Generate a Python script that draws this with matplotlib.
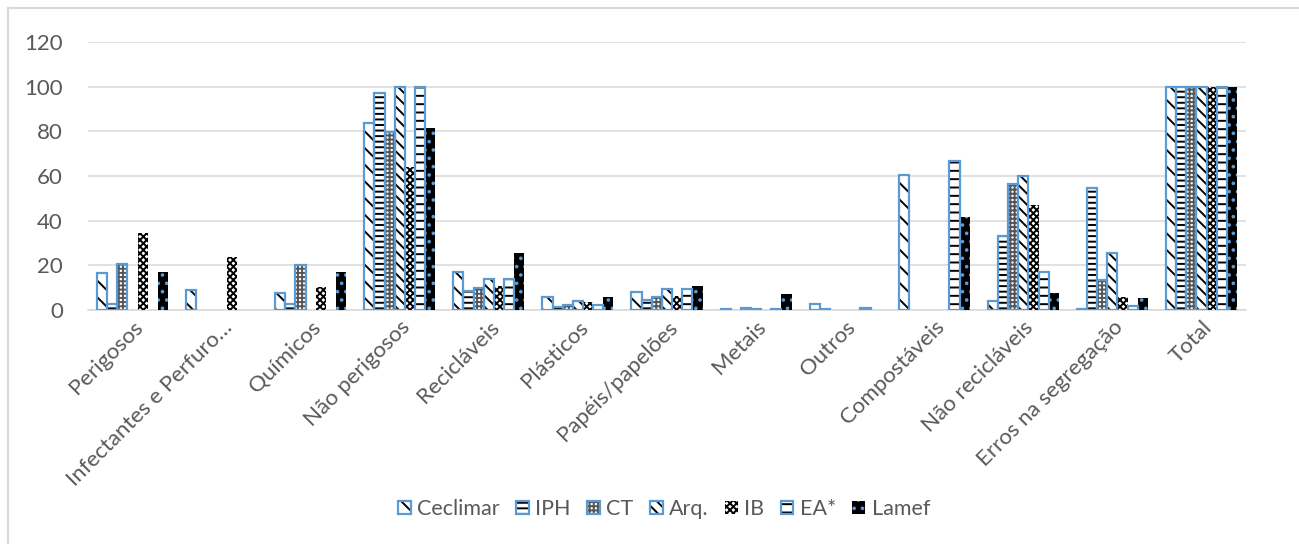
import numpy as np
import matplotlib
matplotlib.use("Agg")
import matplotlib.pyplot as plt
from matplotlib.patches import Patch
from matplotlib.legend_handler import HandlerTuple
from matplotlib.lines import Line2D

categories = ["Perigosos", "Infectantes e Perfuro…", "Químicos", "Não perigosos",
              "Recicláveis", "Plásticos", "Papéis/papelões", "Metais", "Outros",
              "Compostáveis", "Não recicláveis", "Erros na segregação", "Total"]

ceclimar = [16.4, 9.0, 7.8, 83.6, 17.2, 6.0, 8.2, 0.5, 2.5, 60.5, 4.2, 0.3, 100]
iph      = [2.5, 0, 2.5, 97.0, 8.5, 1.2, 4.5, 0, 0.6, 0, 33.3, 54.8, 100]
ct       = [20.4, 0, 20.3, 79.6, 9.7, 2.2, 6.0, 1.0, 0, 0, 56.3, 13.4, 100]
arq      = [0, 0, 0, 100, 13.7, 4.2, 9.2, 0.5, 0, 0, 60.2, 25.4, 100]
ib       = [34.3, 23.6, 10.4, 64.2, 10.7, 3.7, 6.3, 0, 0, 0, 47.0, 6.0, 100]
ea       = [0, 0, 0, 100, 13.7, 2.2, 9.2, 0.5, 1.0, 66.7, 16.9, 2.0, 100]
lamef    = [17.2, 0, 17.2, 81.4, 25.7, 6.0, 10.7, 7.0, 0, 41.8, 7.5, 5.2, 100]

series_names = ["Ceclimar", "IPH", "CT", "Arq.", "IB", "EA*", "Lamef"]
series_values = [ceclimar, iph, ct, arq, ib, ea, lamef]

BLUE = "#5b9bd5"
GREY = "#595959"
# face colour, hatch colour, hatch pattern, blue outline
styles = [
    ("white", "black", "\\\\", True),
    ("white", "black", "---", True),
    ("white", "#555555", "++++", True),
    ("white", "black", "\\\\\\", True),
    ("white", "black", "xxxxx", False),
    ("white", "black", "--", True),
    ("black", BLUE, "..", False),
]

plt.rcParams["font.family"] = ["Lato", "DejaVu Sans"]
plt.rcParams["hatch.linewidth"] = 1.4

fig = plt.figure(figsize=(12.99, 5.44), dpi=100)
ax = fig.add_axes([88 / 1299, 234 / 544, 1158 / 1299, 268 / 544])

n = len(series_names)
w = 0.114
centers = np.arange(len(categories))
handles = []
for i, (name, vals) in enumerate(zip(series_names, series_values)):
    face, hcol, hatch, outline = styles[i]
    v = np.asarray(vals, dtype=float)
    x = centers + (i - (n - 1) / 2) * w
    m = v > 0
    ax.bar(x[m], v[m], width=w, color=face, edgecolor=hcol, linewidth=0,
           hatch=hatch, zorder=3)
    h_fill = Patch(facecolor=face, edgecolor=hcol, linewidth=0, hatch=hatch)
    if outline:
        ax.bar(x[m], v[m], width=w, fill=False, edgecolor=BLUE, linewidth=1.6,
               zorder=4)
        h_edge = Patch(fill=False, edgecolor=BLUE, linewidth=1.6)
        handles.append((h_fill, h_edge))
    else:
        handles.append((h_fill,))

ax.set_xlim(-0.5, len(categories) - 0.5)
ax.set_ylim(0, 120)
ax.set_yticks(np.arange(0, 121, 20))
ax.yaxis.grid(True, color="#d9d9d9", linewidth=1.1, zorder=0)
ax.set_axisbelow(True)
for s in ["left", "right", "top"]:
    ax.spines[s].set_visible(False)
ax.spines["bottom"].set_color("#d9d9d9")
ax.spines["bottom"].set_linewidth(1.1)
ax.tick_params(axis="y", length=0, pad=18, labelsize=16, labelcolor=GREY)
ax.tick_params(axis="x", length=0, pad=5, labelsize=16, labelcolor=GREY)
ax.set_xticks(centers)
ax.set_xticklabels(categories, rotation=45, ha="right", rotation_mode="anchor")

leg = fig.legend(handles, series_names, loc="center",
                 bbox_to_anchor=(664 / 1299, 1 - 509 / 544),
                 ncol=7, frameon=False, fontsize=15.5, handlelength=0.6,
                 handleheight=0.6, handletextpad=0.3, columnspacing=0.75,
                 handler_map={tuple: HandlerTuple(ndivide=1, pad=0)})
for t in leg.get_texts():
    t.set_color(GREY)

# chart area frame
fig.add_artist(Line2D([8 / 1299, 8 / 1299], [0, 1 - 8 / 544], transform=fig.transFigure,
                      color="#d9d9d9", linewidth=1.5))
fig.add_artist(Line2D([8 / 1299, 1], [1 - 8 / 544, 1 - 8 / 544], transform=fig.transFigure,
                      color="#d9d9d9", linewidth=1.5))

fig.savefig("out.png", dpi=100)
